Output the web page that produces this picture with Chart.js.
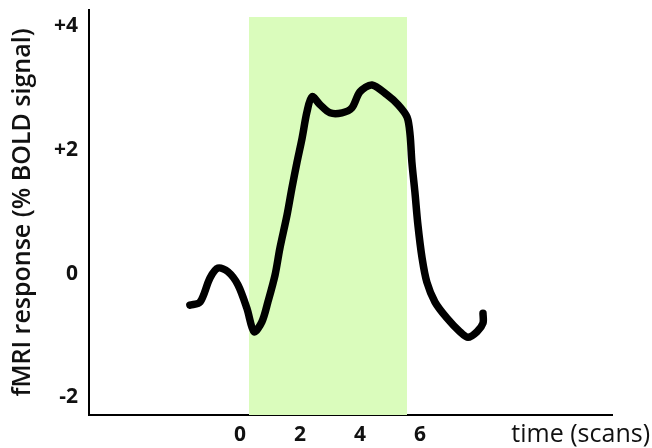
<!DOCTYPE html>
<html>
<head>
<meta charset="utf-8">
<script src="https://cdn.jsdelivr.net/npm/chart.js@4"></script>
<style>
  html, body { margin: 0; padding: 0; background: #ffffff; }
  #wrap { width: 652px; height: 448px; }
</style>
</head>
<body>
<div id="wrap"><canvas id="c" width="652" height="448"></canvas></div>
<script>
// ---- data ----
const timeScans = [-1.67, -1.33, -1.0, -0.73, -0.4, -0.07, 0.23, 0.47, 0.73, 0.93, 1.17, 1.33, 1.57, 1.73, 1.9, 2.07, 2.23, 2.4, 2.67, 3.0, 3.4, 3.73, 4.0, 4.4, 4.9, 5.27, 5.57, 5.67, 5.73, 5.83, 5.93, 6.07, 6.23, 6.5, 6.9, 7.33, 7.6, 7.9, 8.1, 8.1];
const boldSignal = [-0.51, -0.46, -0.07, 0.09, 0.03, -0.18, -0.56, -0.94, -0.78, -0.46, -0.02, 0.41, 0.95, 1.38, 1.8, 2.19, 2.61, 2.86, 2.73, 2.6, 2.6, 2.68, 2.94, 3.05, 2.89, 2.73, 2.53, 2.24, 1.8, 1.32, 0.79, 0.25, -0.14, -0.46, -0.72, -0.94, -1.03, -0.94, -0.8, -0.64];
const stimulusBlockX = [0.3, 5.57];
const stimulusBlockTop = 4.15;
const xTicks = [0, 2, 4, 6];
const yTicks = [-2, 0, 2, 4];
const yTickLabels = ['-2', '0', '+2', '+4'];
const xTitle = 'time (scans)';
const yTitle = 'fMRI response (% BOLD signal)';

const curvePoints = timeScans.map((t, i) => ({ x: t, y: boldSignal[i] }));
const blockPoints = stimulusBlockX.map(t => ({ x: t, y: stimulusBlockTop }));

const xTitlePlugin = {
  id: 'xTitleRight',
  afterDraw(chart) {
    const ctx = chart.ctx;
    const xs = chart.scales.x;
    ctx.save();
    ctx.font = '500 25px "Open Sans"';
    ctx.fillStyle = '#111';
    ctx.textAlign = 'right';
    ctx.textBaseline = 'middle';
    ctx.fillText(xTitle, chart.width - 2, xs.top + 20);
    ctx.restore();
  }
};

new Chart(document.getElementById('c'), {
  type: 'line',
  data: {
    datasets: [
      {
        data: curvePoints,
        borderColor: '#000',
        borderWidth: 7.5,
        borderCapStyle: 'round',
        borderJoinStyle: 'round',
        pointRadius: 0,
        tension: 0.3,
        fill: false,
        order: 1
      },
      {
        data: blockPoints,
        borderWidth: 0,
        borderColor: 'rgba(0,0,0,0)',
        backgroundColor: '#dafcbc',
        pointRadius: 0,
        fill: 'start',
        tension: 0,
        order: 2
      }
    ]
  },
  plugins: [xTitlePlugin],
  options: {
    responsive: false,
    animation: false,
    events: [],
    layout: { padding: { top: 10, right: 40, left: 0, bottom: 0 } },
    plugins: { legend: { display: false }, tooltip: { enabled: false } },
    scales: {
      x: {
        type: 'linear',
        min: -5.033,
        max: 12.4,
        grid: { display: false, drawTicks: false },
        border: { display: true, color: '#000', width: 2 },
        afterBuildTicks: s => { s.ticks = xTicks.map(v => ({ value: v })); },
        afterFit: s => { s.height = 33; s.paddingLeft = 0; s.paddingRight = 0; },
        ticks: {
          color: '#111',
          padding: 7,
          font: { family: '"Open Sans"', size: 21, weight: '700' },
          callback: v => String(v)
        }
      },
      y: {
        type: 'linear',
        min: -2.286,
        max: 4.262,
        grid: { display: false, drawTicks: false },
        border: { display: true, color: '#000', width: 2 },
        afterBuildTicks: s => { s.ticks = yTicks.map(v => ({ value: v })); },
        afterFit: s => { s.width = 89; s.paddingTop = 0; s.paddingBottom = 0; },
        ticks: {
          color: '#111',
          padding: 11,
          font: { family: '"Open Sans"', size: 21, weight: '700' },
          callback: v => yTickLabels[yTicks.indexOf(v)]
        },
        title: {
          display: true,
          text: yTitle,
          color: '#111',
          padding: { top: 8, bottom: 0 },
          font: { family: '"Open Sans"', size: 25, weight: '600' }
        }
      }
    }
  }
});
</script>
</body>
</html>
